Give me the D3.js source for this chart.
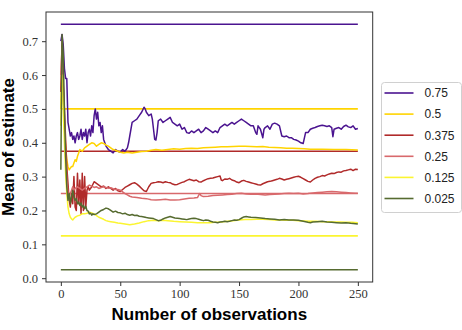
<!DOCTYPE html>
<html>
<head>
<meta charset="utf-8">
<script src="https://cdn.jsdelivr.net/npm/d3@7"></script>
<style>
  body { margin: 0; background: #fff; }
  svg { display: block; }
</style>
</head>
<body>
<svg id="chart" width="462" height="330"></svg>
<script>
// true proportions, one reference line per series
const trueValues = [0.75, 0.5, 0.375, 0.25, 0.125, 0.025];
const legendLabels = ['0.75', '0.5', '0.375', '0.25', '0.125', '0.025'];
const xTicks = [0, 50, 100, 150, 200, 250];
const yTicks = [0.0, 0.1, 0.2, 0.3, 0.4, 0.5, 0.6, 0.7];

const est075 = [[0,0.70],[1,0.72],[2,0.69],[3,0.62],[4,0.59],[5,0.59],[6,0.46],[7,0.44],[8,0.42],[9,0.43],[10,0.41],[11,0.42],[12,0.40],[13,0.42],[14,0.43],[15,0.41],[16,0.42],[17,0.44],[18,0.41],[19,0.43],[20,0.42],[21,0.44],[22,0.40],[23,0.43],[24,0.44],[25,0.42],[26,0.45],[27,0.43],[28,0.48],[29,0.50],[30,0.47],[31,0.49],[32,0.45],[33,0.46],[34,0.43],[35,0.45],[36,0.41],[37,0.40],[38,0.39],[40,0.38],[42,0.375],[44,0.37],[46,0.38],[48,0.375],[50,0.372],[52,0.38],[54,0.375],[56,0.385],[57,0.40],[58,0.42],[60,0.46],[62,0.465],[64,0.47],[66,0.48],[68,0.49],[70,0.505],[71,0.50],[72,0.49],[74,0.48],[76,0.485],[77,0.47],[78,0.44],[79,0.41],[80,0.408],[81,0.43],[82,0.465],[84,0.47],[86,0.46],[88,0.465],[90,0.47],[92,0.475],[94,0.46],[96,0.455],[98,0.45],[100,0.455],[102,0.44],[104,0.445],[106,0.43],[108,0.428],[110,0.435],[112,0.43],[114,0.435],[116,0.44],[118,0.43],[120,0.435],[122,0.445],[124,0.44],[126,0.435],[128,0.43],[130,0.435],[132,0.43],[134,0.445],[136,0.45],[138,0.455],[140,0.45],[142,0.455],[144,0.46],[146,0.455],[148,0.46],[150,0.465],[152,0.47],[154,0.465],[156,0.46],[158,0.455],[160,0.45],[162,0.45],[164,0.43],[165,0.425],[166,0.45],[168,0.44],[170,0.415],[171,0.44],[172,0.445],[174,0.45],[176,0.44],[178,0.455],[180,0.458],[182,0.455],[184,0.45],[186,0.42],[188,0.418],[190,0.42],[192,0.415],[194,0.415],[196,0.41],[198,0.408],[200,0.405],[202,0.40],[204,0.398],[206,0.43],[208,0.43],[210,0.44],[212,0.443],[214,0.445],[216,0.448],[218,0.45],[220,0.452],[222,0.45],[224,0.448],[226,0.45],[228,0.445],[229,0.418],[230,0.44],[232,0.443],[234,0.445],[236,0.44],[238,0.448],[240,0.452],[242,0.447],[244,0.445],[246,0.45],[248,0.44],[250,0.442]];
const est050 = [[0,0.50],[1,0.66],[2,0.55],[3,0.45],[4,0.39],[5,0.35],[6,0.33],[7,0.32],[8,0.325],[9,0.33],[10,0.33],[11,0.34],[12,0.35],[13,0.345],[14,0.36],[15,0.37],[16,0.38],[18,0.375],[20,0.385],[22,0.39],[24,0.395],[26,0.40],[28,0.398],[30,0.39],[32,0.395],[34,0.40],[36,0.398],[38,0.393],[40,0.39],[42,0.385],[44,0.38],[46,0.378],[48,0.375],[50,0.372],[53,0.37],[56,0.372],[60,0.37],[64,0.372],[68,0.374],[72,0.375],[76,0.378],[80,0.38],[85,0.378],[90,0.38],[95,0.382],[100,0.381],[105,0.383],[110,0.384],[115,0.383],[120,0.385],[125,0.386],[130,0.387],[135,0.388],[140,0.388],[145,0.389],[150,0.39],[155,0.39],[160,0.389],[165,0.388],[170,0.389],[175,0.387],[180,0.386],[185,0.385],[190,0.384],[195,0.384],[200,0.383],[205,0.382],[210,0.381],[220,0.381],[230,0.380],[240,0.380],[250,0.379]];
const est0375 = [[0,0.55],[1,0.70],[2,0.57],[3,0.50],[4,0.41],[5,0.33],[6,0.28],[7,0.23],[8,0.21],[9,0.25],[10,0.22],[11,0.30],[12,0.21],[13,0.20],[14,0.31],[15,0.22],[16,0.29],[17,0.19],[18,0.31],[19,0.20],[20,0.30],[21,0.21],[22,0.26],[23,0.27],[24,0.26],[26,0.27],[28,0.285],[30,0.28],[32,0.275],[34,0.27],[36,0.272],[38,0.265],[40,0.27],[42,0.265],[44,0.26],[46,0.265],[48,0.258],[50,0.256],[52,0.262],[54,0.268],[56,0.272],[58,0.276],[60,0.28],[62,0.282],[64,0.278],[66,0.272],[68,0.265],[70,0.258],[72,0.256],[74,0.27],[76,0.28],[78,0.282],[80,0.283],[82,0.285],[84,0.284],[86,0.282],[88,0.285],[90,0.283],[92,0.282],[94,0.278],[96,0.276],[98,0.277],[100,0.28],[102,0.283],[104,0.285],[106,0.289],[108,0.292],[110,0.29],[112,0.288],[114,0.29],[116,0.285],[118,0.284],[120,0.288],[122,0.291],[124,0.294],[126,0.295],[128,0.296],[130,0.298],[132,0.30],[134,0.302],[135,0.29],[136,0.288],[138,0.293],[140,0.292],[142,0.295],[144,0.29],[146,0.288],[148,0.284],[150,0.282],[152,0.287],[154,0.289],[156,0.286],[158,0.284],[160,0.282],[162,0.28],[164,0.278],[166,0.276],[168,0.275],[170,0.279],[172,0.282],[174,0.285],[176,0.286],[178,0.288],[180,0.29],[182,0.292],[184,0.295],[186,0.293],[188,0.29],[190,0.292],[192,0.294],[194,0.296],[196,0.298],[198,0.30],[200,0.301],[202,0.298],[204,0.294],[206,0.29],[208,0.286],[210,0.284],[212,0.29],[214,0.295],[216,0.298],[218,0.30],[220,0.303],[222,0.302],[224,0.305],[226,0.308],[228,0.31],[230,0.309],[232,0.312],[234,0.314],[236,0.313],[238,0.317],[240,0.318],[242,0.32],[244,0.322],[246,0.318],[248,0.322],[250,0.321]];
const est025 = [[0,0.60],[1,0.68],[2,0.58],[3,0.46],[4,0.36],[5,0.29],[6,0.25],[7,0.24],[8,0.25],[9,0.26],[10,0.27],[11,0.26],[12,0.265],[14,0.27],[16,0.265],[18,0.26],[20,0.265],[22,0.27],[24,0.275],[26,0.272],[28,0.268],[30,0.27],[32,0.265],[34,0.268],[36,0.27],[38,0.268],[40,0.266],[42,0.267],[44,0.264],[46,0.262],[48,0.262],[50,0.26],[52,0.255],[54,0.25],[56,0.246],[58,0.242],[60,0.24],[64,0.238],[68,0.236],[72,0.235],[76,0.232],[80,0.231],[84,0.232],[88,0.233],[92,0.231],[96,0.231],[100,0.232],[104,0.234],[108,0.236],[112,0.237],[115,0.238],[116,0.245],[117,0.25],[118,0.244],[120,0.241],[124,0.242],[128,0.244],[132,0.245],[136,0.246],[140,0.247],[144,0.248],[148,0.25],[152,0.251],[156,0.249],[160,0.248],[164,0.249],[168,0.247],[172,0.246],[176,0.247],[180,0.248],[184,0.249],[188,0.25],[192,0.251],[196,0.25],[200,0.251],[204,0.249],[208,0.25],[212,0.252],[216,0.253],[220,0.254],[224,0.255],[228,0.256],[232,0.255],[236,0.254],[240,0.253],[244,0.252],[248,0.251],[250,0.251]];
const est0125 = [[0,0.45],[1,0.60],[2,0.50],[3,0.40],[4,0.31],[5,0.25],[6,0.21],[7,0.19],[8,0.18],[9,0.175],[10,0.172],[11,0.176],[12,0.18],[14,0.184],[16,0.186],[18,0.19],[20,0.19],[22,0.192],[24,0.195],[26,0.193],[28,0.19],[30,0.185],[32,0.18],[34,0.177],[36,0.174],[38,0.17],[40,0.168],[42,0.167],[45,0.165],[48,0.163],[50,0.162],[54,0.16],[58,0.158],[62,0.16],[66,0.163],[70,0.167],[74,0.17],[78,0.171],[82,0.17],[86,0.171],[90,0.17],[95,0.168],[100,0.167],[105,0.166],[110,0.165],[115,0.164],[120,0.164],[125,0.164],[130,0.165],[135,0.166],[140,0.168],[145,0.17],[150,0.172],[155,0.173],[160,0.173],[165,0.174],[170,0.174],[175,0.173],[180,0.172],[185,0.172],[190,0.171],[195,0.171],[200,0.17],[205,0.169],[210,0.168],[215,0.168],[220,0.167],[225,0.167],[230,0.166],[235,0.166],[240,0.165],[245,0.165],[250,0.164]];
const est0025 = [[0,0.32],[1,0.72],[2,0.66],[3,0.50],[4,0.36],[5,0.27],[6,0.23],[7,0.25],[8,0.22],[9,0.24],[10,0.26],[11,0.24],[12,0.23],[13,0.235],[14,0.22],[15,0.225],[16,0.215],[17,0.222],[18,0.21],[19,0.215],[20,0.205],[21,0.212],[22,0.2],[23,0.198],[24,0.19],[25,0.192],[26,0.186],[27,0.19],[28,0.188],[30,0.19],[32,0.195],[34,0.2],[36,0.203],[38,0.207],[40,0.205],[42,0.2],[44,0.195],[46,0.198],[48,0.194],[50,0.193],[52,0.19],[54,0.192],[56,0.188],[58,0.186],[60,0.188],[62,0.185],[64,0.186],[66,0.183],[68,0.182],[70,0.181],[72,0.179],[74,0.178],[76,0.177],[78,0.176],[80,0.173],[82,0.17],[84,0.171],[86,0.175],[88,0.178],[90,0.18],[92,0.182],[94,0.18],[96,0.178],[98,0.177],[100,0.176],[102,0.175],[104,0.174],[106,0.173],[108,0.175],[110,0.176],[112,0.177],[114,0.176],[116,0.174],[118,0.172],[120,0.17],[122,0.172],[124,0.171],[126,0.168],[128,0.166],[130,0.165],[132,0.164],[134,0.166],[136,0.167],[138,0.168],[140,0.167],[142,0.168],[144,0.17],[146,0.172],[148,0.171],[150,0.173],[152,0.177],[154,0.181],[156,0.182],[158,0.181],[160,0.18],[164,0.179],[168,0.178],[172,0.176],[176,0.175],[180,0.174],[184,0.172],[188,0.173],[192,0.172],[196,0.172],[200,0.171],[204,0.168],[208,0.165],[210,0.164],[212,0.166],[216,0.167],[220,0.168],[224,0.166],[228,0.165],[232,0.164],[236,0.163],[240,0.164],[244,0.162],[248,0.161],[250,0.16]];

const estimates = [est075, est050, est0375, est025, est0125, est0025];
const colors = ['#4b1490', '#ffd400', '#b02a2a', '#d8696c', '#fbf531', '#566b30'];

const svg = d3.select('#chart');
const plot = {left: 46, right: 372.7, top: 12, bottom: 282};

const x = d3.scaleLinear().domain([-12.5, 262.5]).range([plot.left, plot.right]);
const y = d3.scaleLinear().domain([-0.01125, 0.78625]).range([plot.bottom, plot.top]);

// axes
const xAxis = svg.append('g')
  .attr('transform', `translate(0,${plot.bottom})`)
  .call(d3.axisBottom(x).tickValues(xTicks).tickSize(4).tickPadding(3));
const yAxis = svg.append('g')
  .attr('transform', `translate(${plot.left},0)`)
  .call(d3.axisLeft(y).tickValues(yTicks).tickSize(4).tickPadding(4).tickFormat(d3.format('.1f')));

[xAxis, yAxis].forEach(a => {
  a.select('.domain').remove();
  a.selectAll('line').attr('stroke', '#333');
  a.selectAll('text')
    .attr('fill', '#333')
    .style('font-family', '"Liberation Serif", serif')
    .style('font-size', '12.5px');
});

// lines
const line = d3.line().x(d => x(d[0])).y(d => y(d[1]));
const g = svg.append('g');

trueValues.forEach((v, i) => {
  g.append('path')
    .datum([[0, v], [250, v]])
    .attr('d', line)
    .attr('fill', 'none')
    .attr('stroke', colors[i])
    .attr('stroke-width', 1.6);
});

estimates.forEach((s, i) => {
  g.append('path')
    .datum(s)
    .attr('d', line)
    .attr('fill', 'none')
    .attr('stroke', colors[i])
    .attr('stroke-width', 1.5)
    .attr('stroke-linejoin', 'round');
});

// frame
svg.append('rect')
  .attr('x', plot.left).attr('y', plot.top)
  .attr('width', plot.right - plot.left).attr('height', plot.bottom - plot.top)
  .attr('fill', 'none').attr('stroke', '#333').attr('stroke-width', 1);

// axis labels
svg.append('text')
  .attr('x', (plot.left + plot.right) / 2).attr('y', 320)
  .attr('text-anchor', 'middle')
  .style('font-family', '"Liberation Sans", sans-serif')
  .style('font-weight', 'bold').style('font-size', '17px')
  .text('Number of observations');

svg.append('text')
  .attr('transform', `translate(14,${(plot.top + plot.bottom) / 2}) rotate(-90)`)
  .attr('text-anchor', 'middle')
  .style('font-family', '"Liberation Sans", sans-serif')
  .style('font-weight', 'bold').style('font-size', '17px')
  .text('Mean of estimate');

// legend
const legend = svg.append('g').attr('transform', 'translate(381.5,82.5)');
legend.append('rect')
  .attr('width', 80).attr('height', 130).attr('rx', 3)
  .attr('fill', '#fff').attr('stroke', '#d0d0d0');

legendLabels.forEach((lab, i) => {
  const ly = 10.5 + i * 21.1;
  legend.append('line')
    .attr('x1', 3).attr('x2', 32).attr('y1', ly).attr('y2', ly)
    .attr('stroke', colors[i]).attr('stroke-width', 1.6);
  legend.append('text')
    .attr('x', 43).attr('y', ly + 4.3)
    .style('font-family', '"Liberation Sans", sans-serif')
    .style('font-size', '12px').attr('fill', '#222')
    .text(lab);
});
</script>
</body>
</html>
